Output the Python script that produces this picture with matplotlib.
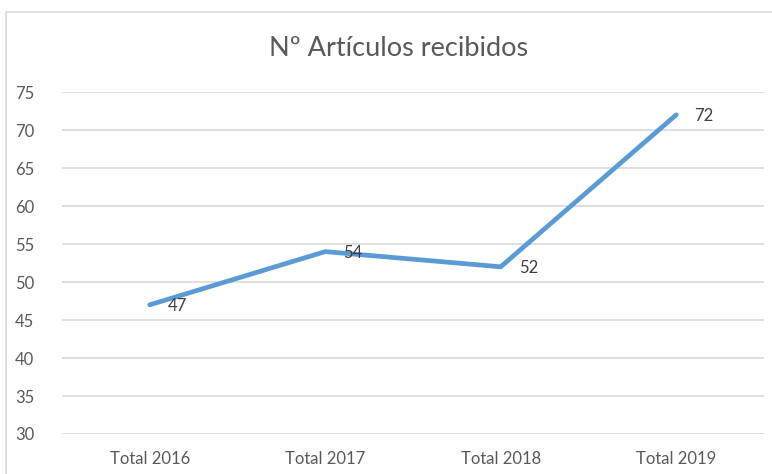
import matplotlib.pyplot as plt
from matplotlib.patches import Rectangle

categories = ["Total 2016", "Total 2017", "Total 2018", "Total 2019"]
values = [47, 54, 52, 72]
y_ticks = [30, 35, 40, 45, 50, 55, 60, 65, 70, 75]
title = "Nº Artículos recibidos"

plt.rcParams["font.family"] = ["Lato", "DejaVu Sans"]

fig = plt.figure(figsize=(7.72, 4.74), dpi=100)
fig.patches.append(
    Rectangle((6 / 772, -0.1), 1.2, 1 - 12 / 474 + 0.1, transform=fig.transFigure,
              fill=False, edgecolor="#D9D9D9", linewidth=1.2)
)
ax = fig.add_axes([62 / 772, 40 / 474, 702 / 772, 342 / 474])

x = list(range(len(categories)))
ax.plot(x, values, color="#5B9BD5", linewidth=3.4, solid_capstyle="round",
        solid_joinstyle="round", zorder=3)
for xi, v in zip(x, values):
    ax.annotate(str(v), (xi, v), xytext=(13, -1), textcoords="offset points",
                ha="left", va="center", fontsize=12, color="#404040")

ax.set_xlim(-0.5, len(categories) - 0.5)
ax.set_ylim(30, 75)
ax.set_yticks(y_ticks)
ax.set_xticks(x)
ax.set_xticklabels(categories)
ax.yaxis.grid(True, color="#D9D9D9", linewidth=1.2)
ax.set_axisbelow(True)
for s in ax.spines.values():
    s.set_visible(False)
ax.tick_params(axis="both", length=0, labelsize=12, labelcolor="#595959")
ax.tick_params(axis="y", pad=20)
ax.tick_params(axis="x", pad=12)

fig.text(399 / 772, 1 - 48 / 474, title, ha="center", va="center",
         fontsize=19.5, color="#595959")

fig.savefig("out.png", dpi=100)
